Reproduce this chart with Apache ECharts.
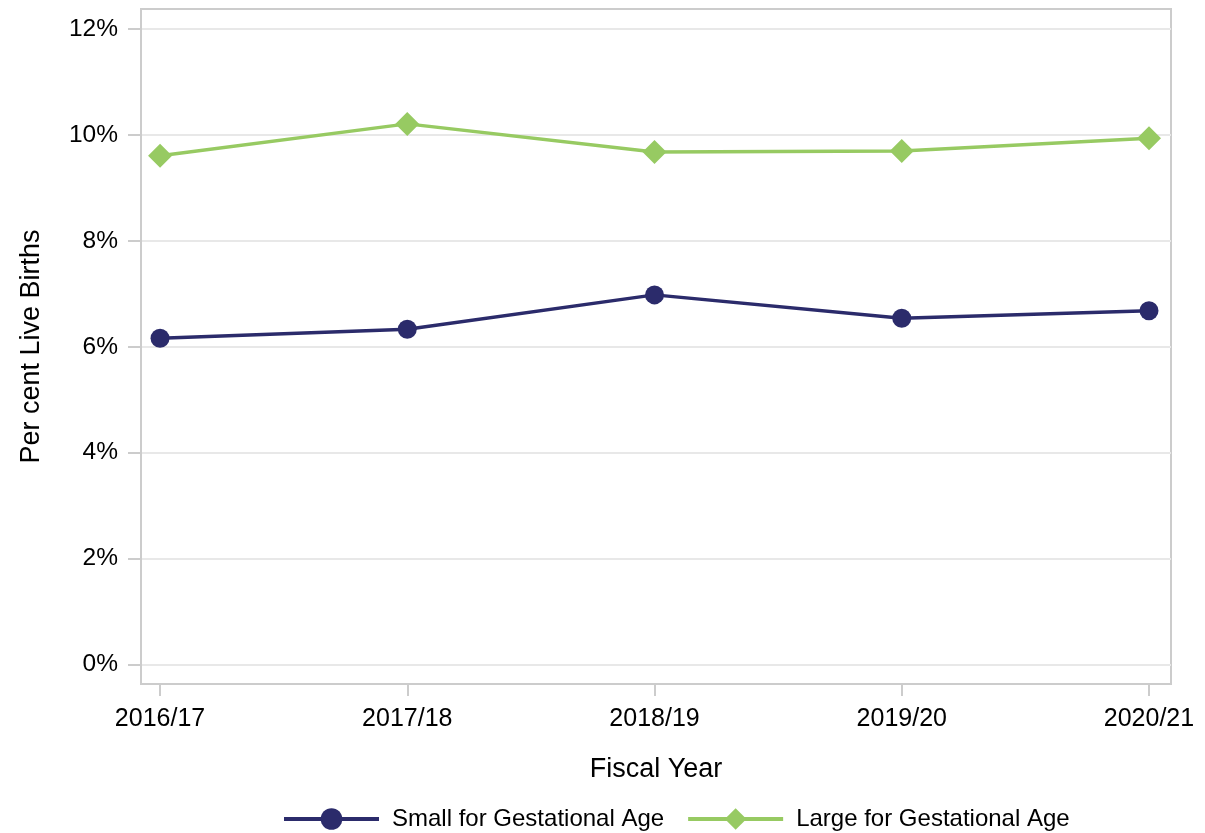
<!DOCTYPE html>
<html>
<head>
<meta charset="utf-8">
<script src="https://cdn.jsdelivr.net/npm/echarts@6/dist/echarts.min.js"></script>
<style>
  html, body { margin: 0; padding: 0; background: #fff; }
  #chart { width: 1205px; height: 833px; }
</style>
</head>
<body>
<div id="chart"></div>
<script>
// fiscal years on the x axis
var years = ['2016/17', '2017/18', '2018/19', '2019/20', '2020/21'];
// per cent of live births
var smallGA = [6.16, 6.33, 6.98, 6.54, 6.68];
var largeGA = [9.61, 10.21, 9.68, 9.70, 9.94];
// y axis tick labels (%)
var yTicks = [0, 2, 4, 6, 8, 10, 12];

var font = 'Liberation Sans, Arial, sans-serif';
var xIdx = years.map(function (y, i) { return i; });

function toPoints(arr) {
  return arr.map(function (v, i) { return [i, v]; });
}

var chart = echarts.init(document.getElementById('chart'));
chart.setOption({
  backgroundColor: '#ffffff',
  animation: false,
  grid: {
    left: 141, right: 34, top: 9, bottom: 149,
    show: true, borderColor: '#cccccc', borderWidth: 2
  },
  legend: {
    bottom: -3,
    left: 277,
    itemWidth: 95,
    itemHeight: 27,
    itemGap: 22,
    lineStyle: { width: 4 },
    textStyle: { fontFamily: font, fontSize: 24, color: '#000', padding: [0, 0, 0, 8] },
    data: ['Small for Gestational Age', 'Large for Gestational Age']
  },
  xAxis: {
    type: 'value',
    min: -0.077,
    max: 4.089,
    name: 'Fiscal Year',
    nameLocation: 'middle',
    nameGap: 72,
    nameTextStyle: { fontFamily: font, fontSize: 27, color: '#000' },
    axisLine: { show: true, onZero: false, lineStyle: { color: '#cccccc', width: 2 } },
    axisTick: { show: true, length: 12, customValues: xIdx, lineStyle: { color: '#cccccc', width: 2 } },
    axisLabel: {
      customValues: xIdx,
      margin: 23,
      fontFamily: font, fontSize: 25, color: '#000',
      formatter: function (v) { return years[Math.round(v)]; }
    },
    splitLine: { show: false }
  },
  yAxis: {
    type: 'value',
    min: -0.37,
    max: 12.38,
    name: 'Per cent Live Births',
    nameLocation: 'middle',
    nameGap: 96,
    nameTextStyle: { fontFamily: font, fontSize: 27, color: '#000' },
    axisLine: { show: true, onZero: false, lineStyle: { color: '#cccccc', width: 2 } },
    axisTick: { show: true, length: 13, customValues: yTicks, lineStyle: { color: '#cccccc', width: 2 } },
    axisLabel: {
      customValues: yTicks,
      margin: 23,
      fontFamily: font, fontSize: 24.5, color: '#000',
      formatter: function (v) { return Math.round(v) + '%'; }
    },
    splitLine: { show: true, lineStyle: { color: '#e8e8e8', width: 2 } }
  },
  series: [
    {
      name: 'Small for Gestational Age',
      type: 'line',
      data: toPoints(smallGA),
      symbol: 'circle',
      symbolSize: 19,
      color: '#2b2b6b',
      lineStyle: { width: 3.5, color: '#2b2b6b' },
      itemStyle: { color: '#2b2b6b' }
    },
    {
      name: 'Large for Gestational Age',
      type: 'line',
      data: toPoints(largeGA),
      symbol: 'diamond',
      symbolSize: [24, 24],
      color: '#97ca62',
      lineStyle: { width: 3.5, color: '#97ca62' },
      itemStyle: { color: '#97ca62' }
    }
  ]
});
</script>
</body>
</html>
